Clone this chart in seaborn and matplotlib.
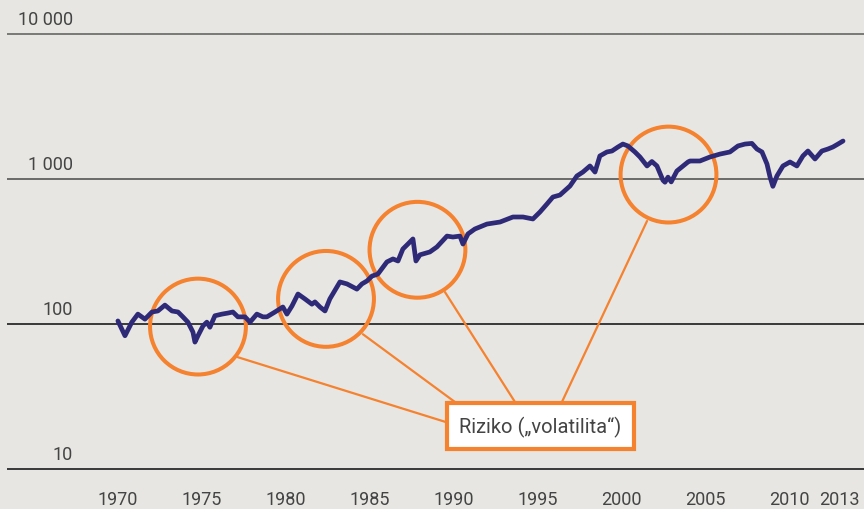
import matplotlib
matplotlib.use("Agg")
import matplotlib.pyplot as plt
import seaborn as sns
import pandas as pd

# index level (log scale, start ~100 in 1970)
years = [1970.00, 1970.42, 1970.83, 1971.19, 1971.61, 1972.03, 1972.38, 1972.80,
         1973.22, 1973.58, 1973.87, 1974.17, 1974.47, 1974.59, 1974.77, 1975.07,
         1975.30, 1975.48, 1975.78, 1976.20, 1976.56, 1976.85, 1977.15, 1977.57,
         1977.87, 1978.28, 1978.64, 1978.88, 1979.36, 1979.83, 1980.07, 1980.37,
         1980.73, 1981.14, 1981.56, 1981.74, 1982.04, 1982.34, 1982.63, 1983.23,
         1983.65, 1984.24, 1984.54, 1984.84, 1985.14, 1985.49, 1986.03, 1986.39,
         1986.69, 1986.98, 1987.28, 1987.58, 1987.76, 1988.00, 1988.59, 1989.01,
         1989.61, 1989.96, 1990.38, 1990.56, 1990.86, 1991.27, 1991.99, 1992.77,
         1993.54, 1994.14, 1994.73, 1995.15, 1995.57, 1995.92, 1996.34, 1996.94,
         1997.35, 1997.71, 1998.13, 1998.43, 1998.72, 1999.14, 1999.44, 1999.80,
         2000.09, 2000.39, 2000.81, 2001.11, 2001.53, 2001.82, 2002.12, 2002.48,
         2002.60, 2002.78, 2002.97, 2003.31, 2003.97, 2004.09, 2004.68, 2005.28,
         2005.88, 2006.47, 2006.95, 2007.37, 2007.78, 2008.08, 2008.38, 2008.68,
         2008.86, 2009.03, 2009.27, 2009.63, 2010.05, 2010.46, 2010.82, 2011.12,
         2011.54, 2011.95, 2012.31, 2012.61, 2012.91, 2013.21]
values = [105, 83, 103, 117, 108, 121, 123, 135,
          123, 121, 112, 103, 88, 75, 83, 97,
          103, 95, 114, 117, 119, 121, 112, 112,
          103, 117, 112, 112, 121, 131, 117, 133,
          161, 149, 137, 142, 131, 123, 149, 195,
          189, 174, 189, 198, 214, 221, 268, 281,
          272, 329, 356, 386, 272, 300, 314, 340,
          404, 398, 404, 356, 418, 452, 489, 505,
          547, 547, 530, 592, 673, 751, 775, 895,
          1049, 1117, 1230, 1117, 1442, 1536, 1560, 1663,
          1742, 1690, 1536, 1418, 1230, 1320, 1230, 980,
          950, 1030, 955, 1136, 1310, 1331, 1331, 1418,
          1486, 1536, 1690, 1742, 1760, 1610, 1536, 1268,
          1032, 890, 1049, 1230, 1310, 1230, 1442, 1560,
          1374, 1560, 1610, 1663, 1742, 1828]

ytick_values = [10, 100, 1000, 10000]
ytick_labels = ["10", "100", "1 000", "10 000"]
grid_colors = ["#1c1c1c", "#1c1c1c", "#555555", "#666666"]
xtick_years = [1970, 1975, 1980, 1985, 1990, 1995, 2000, 2005, 2010, 2013]

# risk circles and the lines to the label box
circle_years = [1974.77, 1982.40, 1987.85, 2002.81]
circle_values = [96, 149, 325, 1073]
link_start_years = [1977.15, 1984.60, 1989.49, 2001.53]
link_start_values = [59, 85, 166, 513]
link_end_years = [1989.53, 1990.08, 1993.66, 1996.46]
link_end_values = [21.1, 29.0, 29.0, 29.0]
label_text = "Riziko („volatilita“)"
label_year = 1995.18
label_value = 19.8

bg = "#e7e6e2"
navy = "#2e2a78"
orange = "#f5822f"
text_col = "#444444"

sns.set_theme(style="white")
plt.rcParams['font.family'] = ['Roboto', 'DejaVu Sans']

df = pd.DataFrame({"year": years, "value": values})

fig = plt.figure(figsize=(8.64, 5.10), dpi=100, facecolor=bg)
ax = fig.add_axes([7 / 864, 0.05, 857 / 864, 0.9098])
ax.set_facecolor(bg)

for v, c in zip(ytick_values, grid_colors):
    ax.axhline(v, color=c, linewidth=1.2, zorder=1)

ax.scatter(circle_years, circle_values, s=69 ** 2, facecolors="none",
           edgecolors=orange, linewidths=2.9, zorder=2)

for x0, y0, x1, y1 in zip(link_start_years, link_start_values, link_end_years, link_end_values):
    ax.plot([x0, x1], [y0, y1], color=orange, linewidth=1.6, zorder=2)

sns.lineplot(data=df, x="year", y="value", ax=ax, color=navy, linewidth=3.4,
             zorder=3, estimator=None)

ax.text(label_year, label_value, label_text, ha="center", va="center",
        fontsize=14.5, color=text_col, zorder=5,
        bbox=dict(boxstyle="square,pad=0.62", facecolor="white",
                  edgecolor=orange, linewidth=3))

ax.set_yscale("log")
ax.set_ylim(10 ** 0.9, 10 ** 4.1)
ax.set_xlim(1963.39, 2014.46)
ax.set_yticks([])
ax.minorticks_off()
ax.set_xticks(xtick_years)
ax.set_xticklabels([str(y) for y in xtick_years])
ax.tick_params(axis="x", length=0, pad=4.5, labelsize=13, labelcolor=text_col)
ax.set_xlabel("")
ax.set_ylabel("")
for s in ax.spines.values():
    s.set_visible(False)

for v, lab in zip(ytick_values, ytick_labels):
    ax.annotate(lab, xy=(0.077, v), xycoords=("axes fraction", "data"),
                xytext=(0, 7), textcoords="offset points", ha="right",
                va="baseline", fontsize=13, color=text_col)

fig.savefig("out.png", dpi=100, facecolor=bg)
